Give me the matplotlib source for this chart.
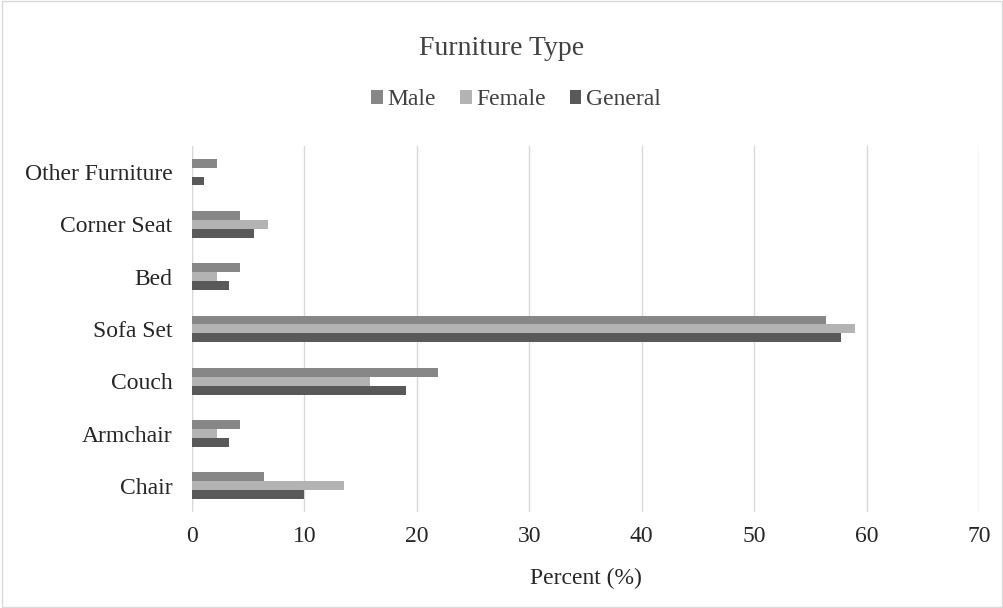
import matplotlib.pyplot as plt
import numpy as np
from matplotlib.patches import Rectangle

plt.rcParams["font.family"] = ["Liberation Serif", "DejaVu Serif"]

categories = ["Chair", "Armchair", "Couch", "Sofa Set", "Bed", "Corner Seat", "Other Furniture"]
male = [6.4, 4.3, 21.9, 56.4, 4.3, 4.3, 2.2]
female = [13.5, 2.2, 15.8, 59.0, 2.2, 6.8, 0.0]
general = [10.0, 3.3, 19.0, 57.7, 3.3, 5.5, 1.1]

colors = {"Male": "#878787", "Female": "#b3b3b3", "General": "#595959"}

fig = plt.figure(figsize=(10.04, 6.08), dpi=100)
ax = fig.add_axes([0.1912, 0.158, 0.7839, 0.602])

y = np.arange(len(categories))
h = 0.17
ax.barh(y + h, male, height=h, color=colors["Male"], label="Male", zorder=3)
ax.barh(y, female, height=h, color=colors["Female"], label="Female", zorder=3)
ax.barh(y - h, general, height=h, color=colors["General"], label="General", zorder=3)

ax.set_xlim(0, 70)
ax.set_ylim(-0.5, len(categories) - 0.5)
ax.set_xticks(range(0, 71, 10))
ax.set_yticks(y)
ax.set_yticklabels(categories)
ax.tick_params(axis="both", length=0, labelsize=17, colors="#262626")
ax.tick_params(axis="y", pad=14)
ax.tick_params(axis="x", pad=10)
ax.xaxis.grid(True, color="#d9d9d9", linewidth=1, zorder=0)
for s in ax.spines.values():
    s.set_visible(False)
ax.axvline(0, color="#d9d9d9", linewidth=1, zorder=1)

ax.set_xlabel("Percent (%)", fontsize=17, color="#262626", labelpad=15)
fig.suptitle("Furniture Type", y=0.94, fontsize=20, color="#404040")

fig.legend(loc="center", bbox_to_anchor=(0.514, 0.836), ncol=3, frameon=False,
           fontsize=17, handlelength=0.5, handleheight=0.5, handletextpad=0.2,
           columnspacing=1.0, labelcolor="#404040")

# light frame around the chart area
fig.patches.append(Rectangle((0.002, 0.002), 0.996, 0.996, transform=fig.transFigure,
                             fill=False, edgecolor="#d9d9d9", linewidth=1))

fig.savefig("out.png", dpi=100)
